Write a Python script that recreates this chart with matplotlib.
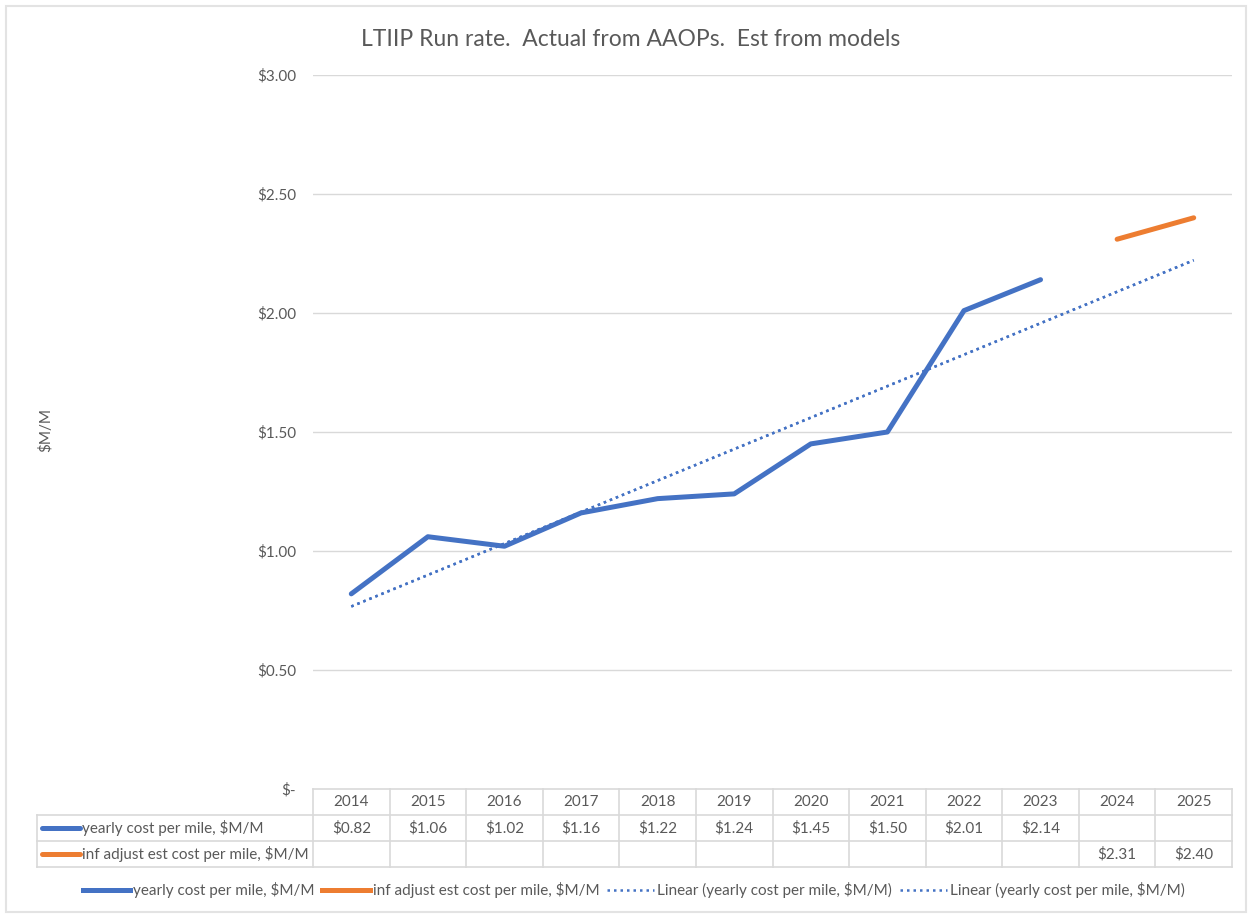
import numpy as np
import matplotlib
matplotlib.use("Agg")
import matplotlib.pyplot as plt
from matplotlib.lines import Line2D
from matplotlib.patches import Rectangle

# data
years = ["2014", "2015", "2016", "2017", "2018", "2019", "2020", "2021", "2022", "2023", "2024", "2025"]
yearly_cost = [0.82, 1.06, 1.02, 1.16, 1.22, 1.24, 1.45, 1.50, 2.01, 2.14, None, None]
inf_adjust = [None, None, None, None, None, None, None, None, None, None, 2.31, 2.40]
y_ticks = [0, 0.5, 1.0, 1.5, 2.0, 2.5, 3.0]
y_tick_labels = ["$-", "$0.50", "$1.00", "$1.50", "$2.00", "$2.50", "$3.00"]
name_a = "yearly cost per mile, $M/M"
name_b = "inf adjust est cost per mile, $M/M"
name_trend = "Linear (yearly cost per mile, $M/M)"
title = "LTIIP Run rate.  Actual from AAOPs.  Est from models"

plt.rcParams['font.family'] = ['Lato', 'DejaVu Sans']
BLUE = "#4472C4"
ORANGE = "#ED7D31"
GRAY = "#595959"
GRID = "#D9D9D9"

W, H = 1250, 916
fig = plt.figure(figsize=(W / 100, H / 100), dpi=100)

def px(l, t, r, b):
    return [l / W, 1 - b / H, (r - l) / W, (b - t) / H]

# outer frame
fig.patches.append(Rectangle((6 / W, 4 / H), 1 - 10 / W, 1 - 10 / H, transform=fig.transFigure,
                             fill=False, edgecolor="#E3E3E3", linewidth=1.5))

ax = fig.add_axes(px(313, 75, 1232, 789))
x = np.arange(len(years))
ya = np.array([np.nan if v is None else v for v in yearly_cost])
yb = np.array([np.nan if v is None else v for v in inf_adjust])

for t in y_ticks[1:]:
    ax.axhline(t, color=GRID, linewidth=1, zorder=0)

ax.plot(x, ya, color=BLUE, linewidth=3.6, solid_capstyle='round', zorder=3)
ax.plot(x, yb, color=ORANGE, linewidth=3.6, solid_capstyle='round', zorder=3)

# linear trendline (excel style, fit on actuals, forecast to end)
mask = ~np.isnan(ya)
k, b0 = np.polyfit(x[mask] + 1, ya[mask], 1)
trend = k * (x + 1) + b0
for _ in range(2):
    ax.plot(x, trend, color=BLUE, linewidth=1.8, linestyle=(0, (1, 1.6)), zorder=2)

ax.set_xlim(-0.5, len(years) - 0.5)
ax.set_ylim(0, 3.0)
ax.set_yticks(y_ticks)
ax.set_yticklabels(y_tick_labels, color=GRAY, fontsize=11)
ax.set_xticks([])
ax.tick_params(axis='y', length=0, pad=12)
for s in ax.spines.values():
    s.set_visible(False)

fig.text(631 / W, 1 - 40 / H, title, ha='center', va='center', fontsize=16.5, color=GRAY)
fig.text(45 / W, 1 - 430 / H, "$M/M", rotation=90, ha='center', va='center', fontsize=11, color=GRAY)

# data table
tab = fig.add_axes(px(313, 789, 1232, 867))
tab.set_xlim(-0.5, len(years) - 0.5)
tab.set_ylim(3, 0)
tab.axis('off')
unit = (1232 - 313) / len(years)
left = -0.5 - (313 - 37) / unit
kw = dict(color=GRID, linewidth=1.2, clip_on=False)
tab.plot([-0.5, len(years) - 0.5], [0, 0], **kw)
for r in [1, 2, 3]:
    tab.plot([left, len(years) - 0.5], [r, r], **kw)
tab.plot([left, left], [1, 3], **kw)
for i in range(len(years) + 1):
    tab.plot([i - 0.5, i - 0.5], [0, 3], **kw)

for i, yr in enumerate(years):
    tab.text(i, 0.5, yr, ha='center', va='center', fontsize=11, color=GRAY)
    if yearly_cost[i] is not None:
        tab.text(i, 1.5, "${:.2f}".format(yearly_cost[i]), ha='center', va='center', fontsize=11, color=GRAY)
    if inf_adjust[i] is not None:
        tab.text(i, 2.5, "${:.2f}".format(inf_adjust[i]), ha='center', va='center', fontsize=11, color=GRAY)

lx0 = left + (42 - 37) / unit
lx1 = left + (80 - 37) / unit
for r, (nm, c) in enumerate([(name_a, BLUE), (name_b, ORANGE)]):
    tab.plot([lx0, lx1], [1.5 + r, 1.5 + r], color=c, linewidth=3.6, solid_capstyle='round', clip_on=False)
    tab.text(lx1 + 0.03, 1.5 + r, nm, ha='left', va='center', fontsize=11, color=GRAY)

# bottom legend
handles = [Line2D([], [], color=BLUE, linewidth=3.6),
           Line2D([], [], color=ORANGE, linewidth=3.6),
           Line2D([], [], color=BLUE, linewidth=1.8, linestyle=(0, (1, 1.6))),
           Line2D([], [], color=BLUE, linewidth=1.8, linestyle=(0, (1, 1.6)))]
labels = [name_a, name_b, name_trend, name_trend]
leg = fig.legend(handles, labels, loc='center', bbox_to_anchor=(634 / W, 1 - 890 / H), ncol=4,
                 frameon=False, fontsize=11, handlelength=3.1, handletextpad=0.2, columnspacing=0.5)
for t in leg.get_texts():
    t.set_color(GRAY)

fig.savefig("out.png", dpi=100, facecolor='white')
